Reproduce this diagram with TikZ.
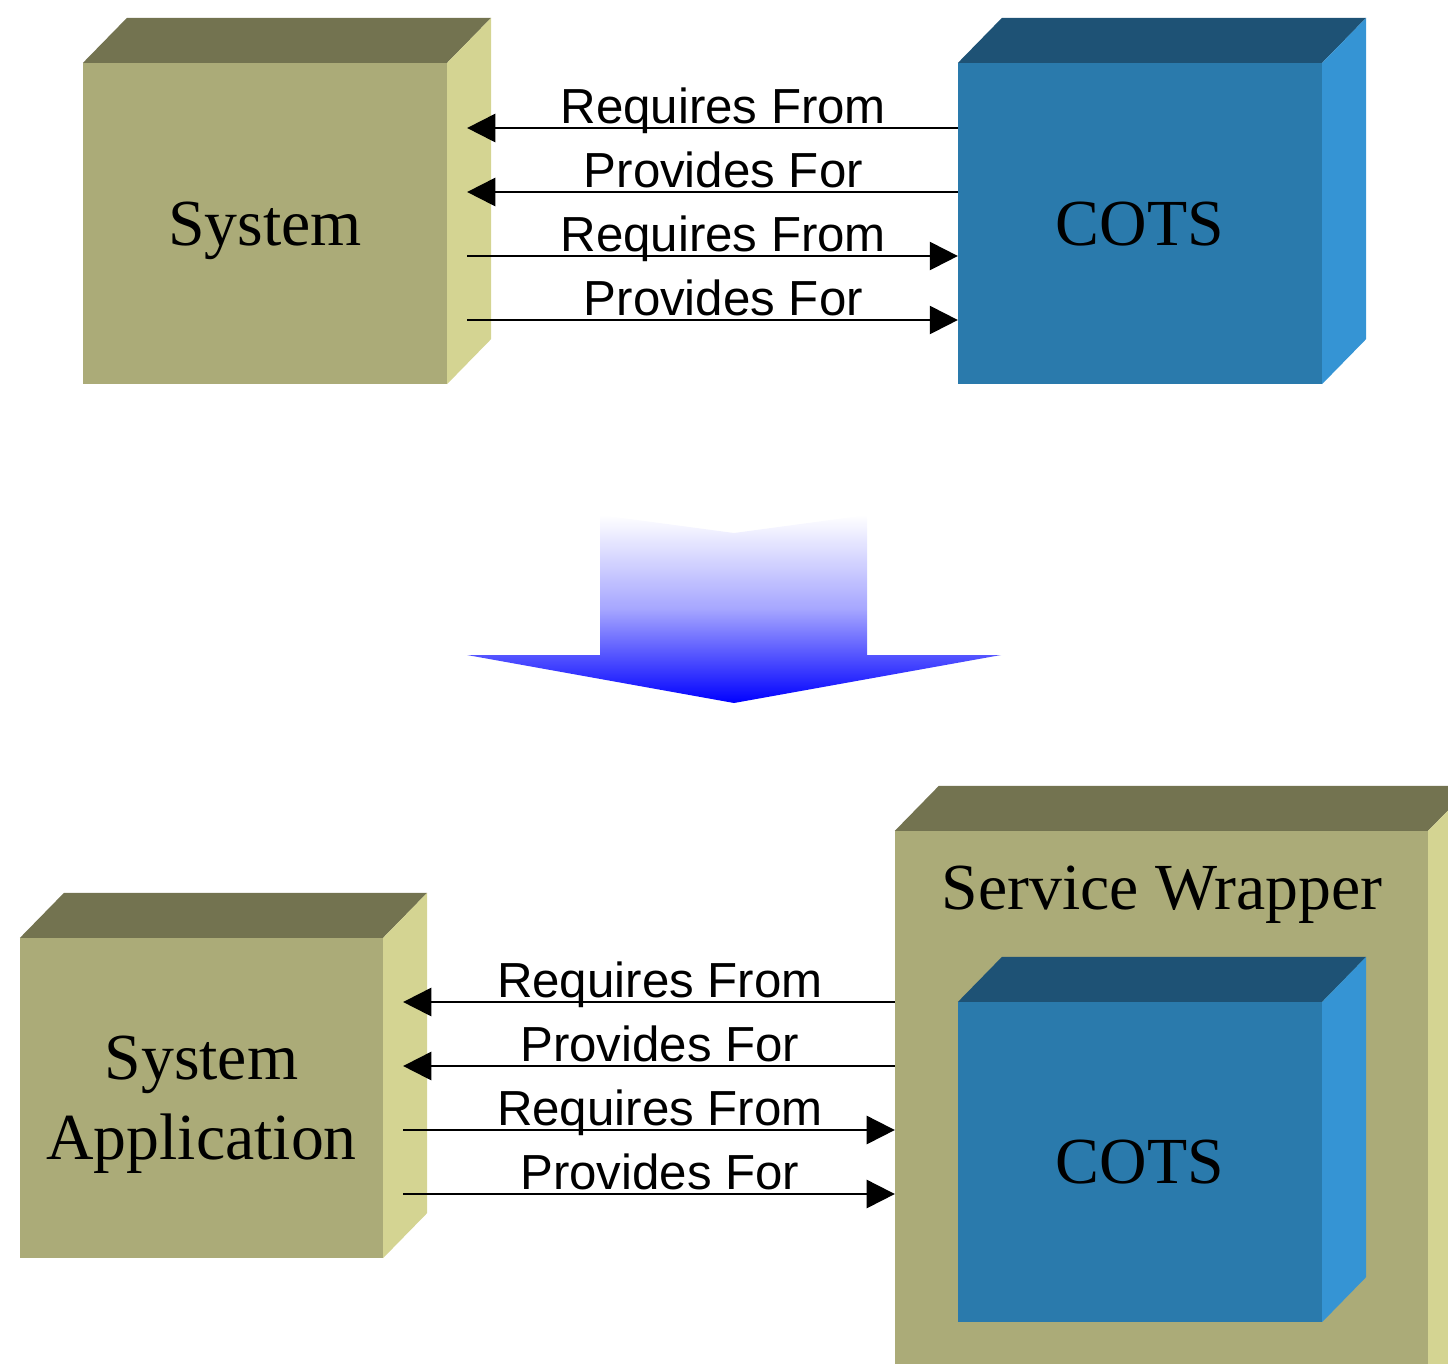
\documentclass[tikz,border=0pt]{standalone}
\usepackage{fontspec}
\setmainfont{Liberation Serif}
\newfontfamily\linkfont{Liberation Sans}
\usetikzlibrary{arrows.meta,calc}
\definecolor{olivefront}{HTML}{ABAB78}
\definecolor{olivetop}{HTML}{737350}
\definecolor{oliveside}{HTML}{D4D492}
\definecolor{bluefront}{HTML}{2A7AAC}
\definecolor{bluetop}{HTML}{1E5275}
\definecolor{blueside}{HTML}{3594D4}
\tikzset{
  face/.style={draw=none, inner sep=0pt, outer sep=0pt},
  boxtext/.style={font=\fontsize{18.7}{22.8}\selectfont, align=center, text depth=0pt},
  link/.style={line width=0.6pt},
  toleft/.style={{Triangle[length=8pt,width=8pt]}-},
  toright/.style={-{Triangle[length=8pt,width=8pt]}},
  linktext/.style={font=\linkfont\fontsize{14}{16}\selectfont, anchor=base,
                   yshift=1.4pt, pos=0.522},
  bigarrow/.style={top color=white, bottom color=blue, middle color=blue!35!white},
}
% block with front face as node, top and side faces hung off its anchors
\newcommand{\blockbox}[7]{%
  \node[face, boxtext, fill=#6front, minimum width=#4, minimum height=#5] (#1) at (#2,#3) {#7};
  \fill[#6top] (#1.north west) -- ++(44,-45) -- ([shift={(44,-45)}]#1.north east)
    -- (#1.north east) -- cycle;
  \fill[#6side] (#1.north east) -- ([shift={(44,-45)}]#1.north east)
    -- ([shift={(44,-45)}]#1.south east) -- (#1.south east) -- cycle;
}

\begin{document}
\begin{tikzpicture}[x=0.01cm, y=-0.01cm]
  \path[use as bounding box, clip] (0,0) rectangle (1448,1363);

  % before
  \blockbox{sys}{265}{223.5}{3.64cm}{3.21cm}{olive}{System}
  \blockbox{cots}{1140}{223.5}{3.64cm}{3.21cm}{blue}{COTS}
  \coordinate (sysR) at ([xshift=0.2cm]sys.east);
  \foreach \yy/\lbl/\way in {128/Requires From/toleft, 192/Provides For/toleft,
                             256/Requires From/toright, 320/Provides For/toright}
    \draw[link,\way] (sysR |- 0,\yy) -- node[linktext]{\lbl} (cots.west |- 0,\yy);

  % transition
  \shade[bigarrow] (600,515) -- (734,533) -- (867,515) -- (867,655) -- (1001,655)
    -- (734,703) -- (467,655) -- (600,655) -- cycle;

  % after
  \blockbox{app}{201.5}{1098}{3.63cm}{3.20cm}{olive}{System\\Application}
  \blockbox{wrap}{1161.5}{1175.5}{5.33cm}{6.89cm}{olive}{}
  \node[boxtext] (wraplabel) at (1162,888) {Service Wrapper};
  \blockbox{inner}{1140}{1162}{3.64cm}{3.20cm}{blue}{COTS}
  \coordinate (appR) at ([xshift=0.2cm]app.east);
  \foreach \yy/\lbl/\way in {1002/Requires From/toleft, 1066/Provides For/toleft,
                             1130/Requires From/toright, 1194/Provides For/toright}
    \draw[link,\way] (appR |- 0,\yy) -- node[linktext]{\lbl} (wrap.west |- 0,\yy);
\end{tikzpicture}
\end{document}
